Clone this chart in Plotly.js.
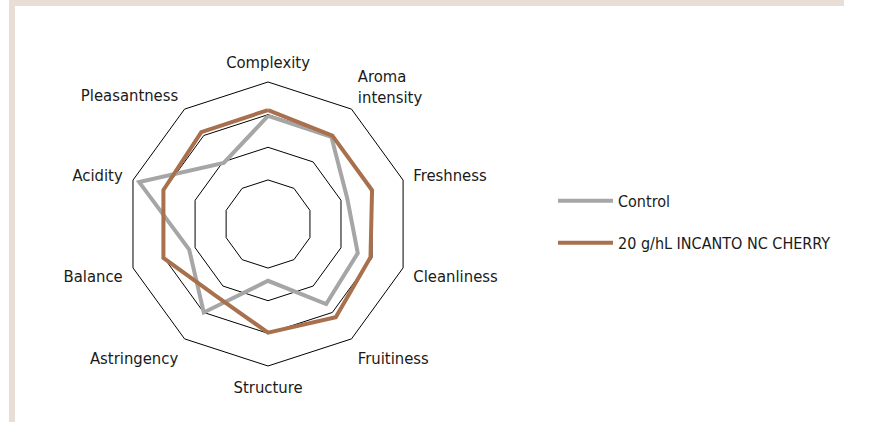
<!DOCTYPE html>
<html>
<head>
<meta charset="utf-8">
<script src="https://cdn.plot.ly/plotly-3.0.1.min.js"></script>
<style>
  html, body { margin: 0; padding: 0; background: #fff; }
  #chart { width: 882px; height: 422px; }
</style>
</head>
<body>
<div id="chart"></div>
<script>
// Sensory profile - radar
var attributes = ['Complexity', 'Aroma<br>intensity', 'Freshness', 'Cleanliness', 'Fruitiness',
                  'Structure', 'Astringency', 'Balance', 'Acidity', 'Pleasantness'];
var control = [3.96, 3.95, 3.2, 3.54, 3.68, 2.39, 4.0, 3.19, 4.8, 2.96];
var incanto = [4.14, 4.0, 4.0, 3.95, 4.18, 3.98, 3.37, 4.02, 4.02, 4.13];
var seriesNames = ['Control', '20 g/hL INCANTO NC CHERRY'];
var gridRings = [2, 3, 4, 5];

var font = 'DejaVu Sans Condensed, Liberation Sans Narrow, sans-serif';

// close the polygons
function closed(arr) { return arr.concat([arr[0]]); }

var data = [
  {
    type: 'scatterpolar',
    r: closed(control),
    theta: closed(attributes),
    mode: 'lines',
    name: seriesNames[0],
    legendgroup: 'a',
    line: { color: '#a6a6a6', width: 4 }
  },
  {
    type: 'scatterpolar',
    r: closed(incanto),
    theta: closed(attributes),
    mode: 'lines',
    name: seriesNames[1],
    legendgroup: 'b',
    line: { color: '#a8704c', width: 4 }
  }
];

var layout = {
  width: 882,
  height: 422,
  margin: { l: 0, r: 0, t: 0, b: 0 },
  paper_bgcolor: '#ffffff',
  font: { family: font, size: 16, color: '#1a1a1a' },
  showlegend: true,
  legend: {
    x: 0.627, y: 0.474, xanchor: 'left', yanchor: 'middle',
    traceorder: 'grouped', tracegroupgap: 18,
    itemwidth: 55,
    font: { family: font, size: 16, color: '#1a1a1a' },
    bgcolor: 'rgba(0,0,0,0)'
  },
  polar: {
    domain: { x: [0.1429, 0.4649], y: [0.1327, 0.8057] },
    bgcolor: 'rgba(0,0,0,0)',
    gridshape: 'linear',
    radialaxis: {
      range: [0.65, 5],
      tickvals: gridRings,
      showticklabels: false,
      ticks: '',
      showline: false,
      gridcolor: '#000000',
      gridwidth: 1
    },
    angularaxis: {
      type: 'category',
      rotation: 90,
      direction: 'clockwise',
      showgrid: false,
      showline: true,
      linecolor: '#000000',
      linewidth: 1,
      ticks: 'outside',
      ticklen: 7,
      tickcolor: 'rgba(0,0,0,0)',
      tickfont: { family: font, size: 16.5, color: '#1a1a1a' }
    }
  },
  shapes: [
    { type: 'rect', xref: 'paper', yref: 'paper', x0: 9 / 882, x1: 844 / 882, y0: 416 / 422, y1: 1,
      fillcolor: '#e8ded5', line: { width: 0 }, layer: 'below' },
    { type: 'rect', xref: 'paper', yref: 'paper', x0: 9 / 882, x1: 15 / 882, y0: 0, y1: 1,
      fillcolor: '#e8ded5', line: { width: 0 }, layer: 'below' }
  ]
};

Plotly.newPlot('chart', data, layout, { displayModeBar: false, staticPlot: true });
</script>
</body>
</html>
